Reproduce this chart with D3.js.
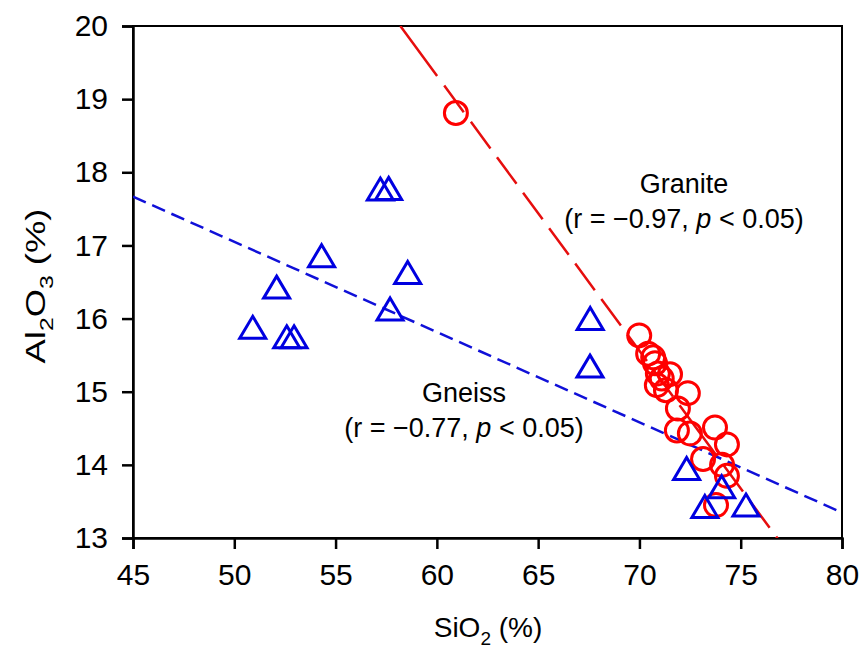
<!DOCTYPE html>
<html>
<head>
<meta charset="utf-8">
<script src="https://cdn.jsdelivr.net/npm/d3@7"></script>
<style>
  body { margin: 0; background: #fff; }
  text { font-family: "Liberation Sans", Arial, sans-serif; fill: #000; }
</style>
</head>
<body>
<script>
// Gneiss samples (triangles)
var gneissSiO2 = [50.91, 52.09, 52.59, 52.95, 54.31, 57.21, 57.62, 57.69, 58.56, 67.57, 67.56, 72.33, 74.06, 73.23, 75.26];
var gneissAl2O3 = [15.88, 16.43, 15.75, 15.75, 16.86, 17.77, 17.78, 16.13, 16.63, 16.00, 15.35, 13.95, 13.70, 13.43, 13.45];

// Granite samples (circles)
var graniteSiO2 = [60.94, 69.99, 70.43, 70.68, 70.77, 70.91, 71.51, 71.10, 70.86, 71.31, 72.39, 71.90, 71.85, 72.49, 73.73, 74.32, 73.14, 74.08, 74.32, 73.78];
var graniteAl2O3 = [18.81, 15.77, 15.52, 15.47, 15.39, 15.25, 15.24, 15.18, 15.09, 15.02, 14.98, 14.77, 14.47, 14.43, 14.51, 14.28, 14.08, 14.00, 13.85, 13.45];

// regression lines: [intercept, slope]
var graniteFit = [41.90, -0.3763];
var gneissFit = [23.22, -0.1234];

var xTicks = [45, 50, 55, 60, 65, 70, 75, 80];
var yTicks = [13, 14, 15, 16, 17, 18, 19, 20];

var width = 860, height = 655;
var margin = {left: 133, top: 26, right: 18, bottom: 117};

var svg = d3.select("body").append("svg")
    .attr("width", width)
    .attr("height", height);

var x = d3.scaleLinear().domain([45, 80]).range([margin.left, width - margin.right]);
var y = d3.scaleLinear().domain([13, 20]).range([height - margin.bottom, margin.top]);

svg.append("clipPath").attr("id", "plotclip")
    .append("rect")
    .attr("x", x(45)).attr("y", y(20))
    .attr("width", x(80) - x(45)).attr("height", y(13) - y(20));

// frame
svg.append("rect")
    .attr("x", x(45)).attr("y", y(20))
    .attr("width", x(80) - x(45)).attr("height", y(13) - y(20))
    .attr("fill", "none").attr("stroke", "#000").attr("stroke-width", 2);

// axes
var xAxis = svg.append("g")
    .attr("transform", "translate(0," + y(13) + ")")
    .call(d3.axisBottom(x).tickValues(xTicks).tickFormat(d3.format("d")).tickSize(11).tickPadding(15));
var yAxis = svg.append("g")
    .attr("transform", "translate(" + x(45) + ",0)")
    .call(d3.axisLeft(y).tickValues(yTicks).tickFormat(d3.format("d")).tickSize(11).tickPadding(14));

[xAxis, yAxis].forEach(function(g) {
    g.attr("font-size", null).attr("font-family", null);
    g.select(".domain").attr("stroke", "#000").attr("stroke-width", 2.5);
    g.selectAll(".tick line").attr("stroke", "#000").attr("stroke-width", 2.5);
    g.selectAll(".tick text").style("font-size", "30px");
});

var plot = svg.append("g").attr("clip-path", "url(#plotclip)");

// granite line starts at the top of the plot
var xTop = (20 - graniteFit[0]) / graniteFit[1];
plot.append("line")
    .attr("x1", x(xTop)).attr("y1", y(20))
    .attr("x2", x(80)).attr("y2", y(graniteFit[0] + graniteFit[1] * 80))
    .attr("stroke", "#e60e0e")
    .attr("stroke-width", 2.5)
    .attr("stroke-dasharray", "62,12,33,12,33,11,33,11,33,11,33,11,33,11,33,11,33,11,33,11");

plot.append("line")
    .attr("x1", x(45)).attr("y1", y(gneissFit[0] + gneissFit[1] * 45))
    .attr("x2", x(80)).attr("y2", y(gneissFit[0] + gneissFit[1] * 80))
    .attr("stroke", "#1010d8")
    .attr("stroke-width", 2.5)
    .attr("stroke-dasharray", "14,7");

// granite circles
plot.selectAll(".granite")
    .data(graniteSiO2)
    .enter().append("circle")
    .attr("class", "granite")
    .attr("cx", function(d) { return x(d); })
    .attr("cy", function(d, i) { return y(graniteAl2O3[i]); })
    .attr("r", 11.5)
    .attr("fill", "none")
    .attr("stroke", "#ff0000")
    .attr("stroke-width", 3);

// gneiss triangles
var tw = 26, th = 22;
var triPath = "M0," + (-th / 2) + "L" + (tw / 2) + "," + (th / 2) + "L" + (-tw / 2) + "," + (th / 2) + "Z";
plot.selectAll(".gneiss")
    .data(gneissSiO2)
    .enter().append("path")
    .attr("class", "gneiss")
    .attr("d", triPath)
    .attr("transform", function(d, i) { return "translate(" + x(d) + "," + y(gneissAl2O3[i]) + ")"; })
    .attr("fill", "none")
    .attr("stroke", "#0000e0")
    .attr("stroke-width", 3);

// annotations
function label(cx, by, name, r) {
    svg.append("text").attr("x", cx).attr("y", by)
        .attr("text-anchor", "middle").style("font-size", "27px").text(name);
    var t = svg.append("text").attr("x", cx).attr("y", by + 35)
        .attr("text-anchor", "middle").style("font-size", "27px");
    t.append("tspan").text("(r = \u2212" + r + ", ");
    t.append("tspan").style("font-style", "italic").text("p");
    t.append("tspan").text(" < 0.05)");
}
label(684, 193, "Granite", "0.97");
label(464, 402, "Gneiss", "0.77");

// axis titles
var xt = svg.append("text").attr("x", 488).attr("y", 637)
    .attr("text-anchor", "middle").style("font-size", "28px");
xt.append("tspan").text("SiO");
xt.append("tspan").attr("dy", 8).style("font-size", "19px").text("2");
xt.append("tspan").attr("dy", -8).text(" (%)");

// y title is drawn a bit taller, like in the source figure
var yt = svg.append("text")
    .attr("transform", "translate(45,286) scale(1,1.3) rotate(-90)")
    .attr("text-anchor", "middle").style("font-size", "28px");
yt.append("tspan").text("Al");
yt.append("tspan").attr("dy", 8).style("font-size", "19px").text("2");
yt.append("tspan").attr("dy", -8).text("O");
yt.append("tspan").attr("dy", 8).style("font-size", "19px").text("3");
yt.append("tspan").attr("dy", -8).text(" (%)");
</script>
</body>
</html>
